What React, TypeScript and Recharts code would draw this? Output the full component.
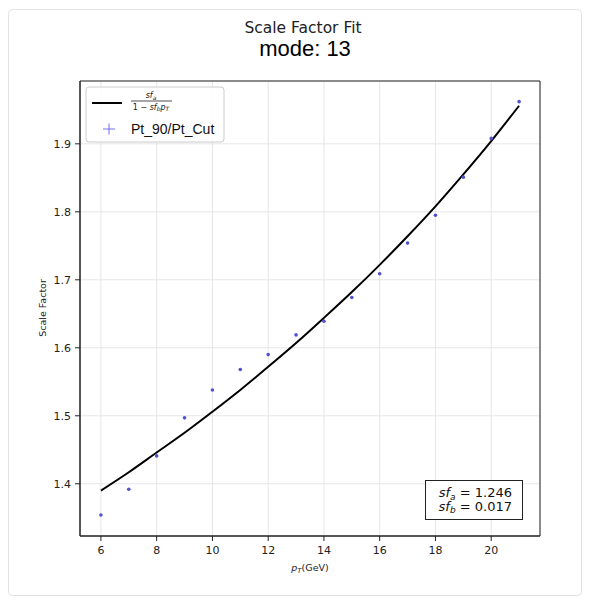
import React from 'react';
import { ComposedChart, Line, Scatter, XAxis, YAxis, CartesianGrid, ReferenceArea } from 'recharts';

const ptValues = [6, 7, 8, 9, 10, 11, 12, 13, 14, 15, 16, 17, 18, 19, 20, 21];
const measuredSF = [1.354, 1.392, 1.441, 1.497, 1.538, 1.568, 1.590, 1.619, 1.639, 1.674, 1.709, 1.754, 1.795, 1.851, 1.908, 1.962];
const fitSF = [1.390, 1.417, 1.446, 1.475, 1.506, 1.538, 1.572, 1.607, 1.644, 1.682, 1.722, 1.764, 1.808, 1.855, 1.904, 1.956];
const xTicks = [6, 8, 10, 12, 14, 16, 18, 20];
const yTicks = [1.4, 1.5, 1.6, 1.7, 1.8, 1.9];
const xDomain = [5.25, 21.75];
const yDomain = [1.3232, 1.9924];
const fitParams = [
  { sub: 'a', value: '1.246' },
  { sub: 'b', value: '0.017' },
];
const titleText = 'Scale Factor Fit';
const modeText = 'mode: 13';
const seriesName = 'Pt_90/Pt_Cut';

const data = ptValues.map((pt, i) => ({ pt, measured: measuredSF[i], fit: fitSF[i] }));

const DV = 'DejaVu Sans';
const LS = 'Liberation Sans';

const Dot = (props: any) => {
  const { cx, cy } = props;
  if (cx == null || cy == null) return null;
  return <circle cx={cx} cy={cy} r={1.8} fill="#5050d2" />;
};

export default function App() {
  return (
    <div style={{ position: 'absolute', left: 0, top: 0, width: 590, height: 603, background: '#fff' }}>
      <ComposedChart width={590} height={603} data={data} margin={{ top: 81, right: 50, bottom: 22, left: 0 }}>
        <CartesianGrid stroke="#e6e6e6" strokeWidth={1} />
        <XAxis
          dataKey="pt"
          type="number"
          domain={xDomain}
          ticks={xTicks}
          allowDataOverflow
          height={45}
          tickSize={5}
          tickMargin={5}
          stroke="#222"
          tick={{ fill: '#222', fontSize: 11, fontFamily: DV }}
        />
        <YAxis
          type="number"
          domain={yDomain}
          ticks={yTicks}
          allowDataOverflow
          width={80}
          tickSize={5}
          tickMargin={4}
          stroke="#222"
          tickFormatter={(v: number) => v.toFixed(1)}
          tick={{ fill: '#222', fontSize: 11, fontFamily: DV }}
        />
        <ReferenceArea x1={xDomain[0]} x2={xDomain[1]} y1={yDomain[0]} y2={yDomain[1]} fill="none" stroke="#222" strokeWidth={1} ifOverflow="visible" />
        <Line dataKey="fit" type="monotone" stroke="#000" strokeWidth={2} dot={false} isAnimationActive={false} />
        <Scatter dataKey="measured" shape={<Dot />} isAnimationActive={false} />
      </ComposedChart>
      <svg width={590} height={603} style={{ position: 'absolute', left: 0, top: 0, pointerEvents: 'none' }}>
        <rect x={8.5} y={9.5} width={573} height={586} rx={4} fill="none" stroke="#e2e2e2" />
        <text x={303} y={33} textAnchor="middle" fontFamily={DV} fontSize={15.5} fill="#222">{titleText}</text>
        <text x={305} y={56} textAnchor="middle" fontFamily={LS} fontSize={22} fill="#000">{modeText}</text>
        <text transform="translate(45.5,308) rotate(-90)" textAnchor="middle" fontFamily={DV} fontSize={9.5} fill="#222">Scale Factor</text>
        <text x={310} y={571} textAnchor="middle" fontFamily={DV} fontSize={9.5} fill="#222">
          <tspan fontStyle="italic">p</tspan>
          <tspan fontSize={7} fontStyle="italic" dy={2}>T</tspan>
          <tspan dy={-2}>(GeV)</tspan>
        </text>
        {/* legend */}
        <rect x={86} y={87} width={138} height={55} rx={3} fill="#fff" fillOpacity={0.85} stroke="#cccccc" />
        <line x1={92} y1={103} x2={122} y2={103} stroke="#000" strokeWidth={2} />
        <text x={151} y={98} textAnchor="middle" fontFamily={DV} fontSize={8} fill="#222">
          <tspan fontStyle="italic">sf</tspan>
          <tspan fontSize={6} fontStyle="italic" dy={1.5}>a</tspan>
        </text>
        <line x1={131} y1={101} x2={172} y2={101} stroke="#222" strokeWidth={0.8} />
        <text x={151} y={109.5} textAnchor="middle" fontFamily={DV} fontSize={8} fill="#222">
          <tspan>1 − </tspan>
          <tspan fontStyle="italic">sf</tspan>
          <tspan fontSize={6} fontStyle="italic" dy={1.5}>b</tspan>
          <tspan fontStyle="italic" dy={-1.5}>p</tspan>
          <tspan fontSize={6} fontStyle="italic" dy={1.5}>T</tspan>
        </text>
        <line x1={103} y1={129} x2={115} y2={129} stroke="#7070e8" strokeWidth={1} />
        <line x1={109} y1={123.5} x2={109} y2={134.5} stroke="#7070e8" strokeWidth={1} />
        <text x={131} y={134} fontFamily={LS} fontSize={14} fill="#111">{seriesName}</text>
        {/* parameters box */}
        <rect x={425.5} y={480.5} width={97} height={39} fill="#fff" stroke="#222" strokeWidth={1} />
        {fitParams.map((p, i) => (
          <text key={p.sub} x={512} y={497 + i * 13.5} textAnchor="end" fontFamily={DV} fontSize={13} fill="#111">
            <tspan fontStyle="italic">sf</tspan>
            <tspan fontSize={9} fontStyle="italic" dy={2.5}>{p.sub}</tspan>
            <tspan dy={-2.5}>{' = ' + p.value}</tspan>
          </text>
        ))}
      </svg>
    </div>
  );
}
